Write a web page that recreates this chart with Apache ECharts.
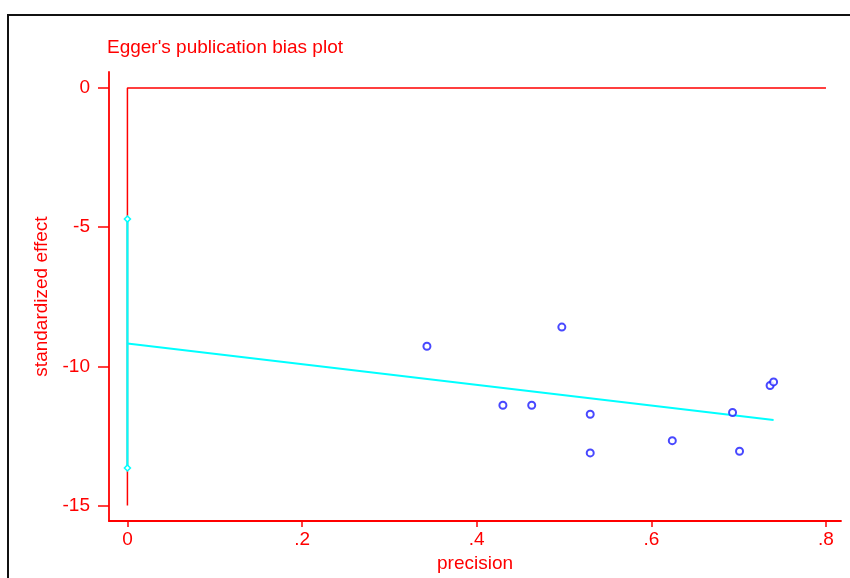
<!DOCTYPE html>
<html>
<head>
<meta charset="utf-8">
<script src="https://cdn.jsdelivr.net/npm/echarts@6/dist/echarts.min.js"></script>
<style>
html,body{margin:0;padding:0;background:#fff;}
#chart{width:850px;height:578px;}
</style>
</head>
<body>
<div id="chart"></div>
<script>
// Study points: precision (x) vs standardized effect (y)
const precision = [0.343, 0.430, 0.463, 0.4975, 0.530, 0.530, 0.624, 0.693, 0.701, 0.736, 0.740];
const stdEffect = [-9.28, -11.40, -11.40, -8.59, -11.72, -13.11, -12.67, -11.66, -13.05, -10.69, -10.56];
// Egger regression line
const fitX = [0, 0.740];
const fitY = [-9.18, -11.93];
// Confidence interval of intercept
const ciX = [0, 0];
const ciY = [-4.71, -13.65];
// Reference lines (zero effect, zero precision)
const refX = [0.8, 0, 0];
const refY = [0, 0, -15];
// Ticks
const xTicks = [0, 0.2, 0.4, 0.6, 0.8];
const yTicks = [0, -5, -10, -15];

const RED = '#ff0000';
const CYAN = '#00ffff';
const FONT = '"Liberation Sans", Arial, sans-serif';
const pairs = (xs, ys) => xs.map((x, i) => [x, ys[i]]);
const fmtX = v => {
  if (Math.abs(v) < 1e-9) return '0';
  return String(Math.round(v * 10) / 10).replace(/^0/, '');
};

const chart = echarts.init(document.getElementById('chart'), null, {renderer: 'canvas'});
chart.setOption({
  animation: false,
  backgroundColor: '#fff',
  graphic: [{
    type: 'rect', silent: true, z: 0,
    shape: {x: 8, y: 15, width: 900, height: 700},
    style: {fill: 'none', stroke: '#111', lineWidth: 2}
  }],
  title: {
    text: "Egger's publication bias plot",
    left: 107, top: 38, padding: 0,
    textStyle: {color: RED, fontFamily: FONT, fontSize: 19, fontWeight: 'normal'}
  },
  grid: {left: 109, right: 9, top: 72, bottom: 56, containLabel: false},
  xAxis: {
    type: 'value', min: -0.0211, max: 0.8172,
    name: 'precision', nameLocation: 'middle', nameGap: 23,
    nameTextStyle: {color: RED, fontFamily: FONT, fontSize: 19},
    axisLine: {show: true, onZero: false, lineStyle: {color: RED, width: 1.8}},
    axisTick: {show: true, length: 6, customValues: xTicks, lineStyle: {color: RED, width: 1.5}},
    axisLabel: {customValues: xTicks, formatter: fmtX, color: RED, fontFamily: FONT, fontSize: 19, margin: 9},
    splitLine: {show: false}
  },
  yAxis: {
    type: 'value', min: -15.56, max: 0.573,
    name: 'standardized effect', nameLocation: 'middle', nameGap: 52,
    nameTextStyle: {color: RED, fontFamily: FONT, fontSize: 19},
    axisLine: {show: true, onZero: false, lineStyle: {color: RED, width: 1.8}},
    axisTick: {show: true, length: 11, customValues: yTicks, lineStyle: {color: RED, width: 1.5}},
    axisLabel: {customValues: yTicks, color: RED, fontFamily: FONT, fontSize: 19, margin: 19},
    splitLine: {show: false}
  },
  series: [
    {
      type: 'line', data: pairs(refX, refY), symbol: 'none',
      lineStyle: {color: RED, width: 1.5}, z: 2
    },
    {
      type: 'line', data: pairs(ciX, ciY), symbol: 'diamond', symbolSize: 6,
      itemStyle: {color: '#fff', borderColor: CYAN, borderWidth: 1.5},
      lineStyle: {color: CYAN, width: 2.2}, z: 3
    },
    {
      type: 'line', data: pairs(fitX, fitY), symbol: 'none',
      lineStyle: {color: CYAN, width: 2}, z: 3
    },
    {
      type: 'scatter', data: pairs(precision, stdEffect), symbol: 'circle', symbolSize: 7,
      itemStyle: {color: '#fff', borderColor: '#1a1aff', borderWidth: 2}, z: 4
    }
  ]
});
</script>
</body>
</html>
